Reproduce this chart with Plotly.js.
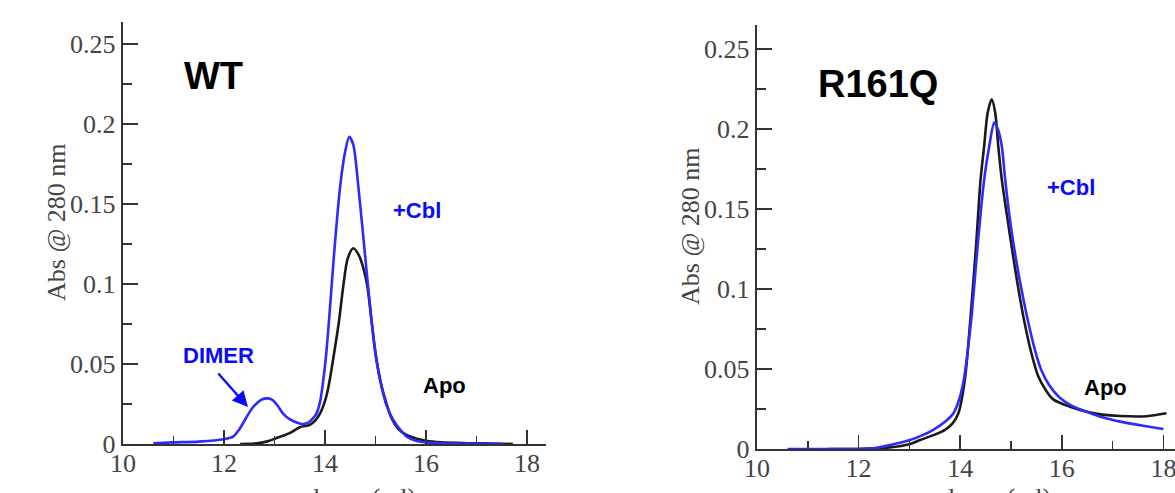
<!DOCTYPE html>
<html>
<head>
<meta charset="utf-8">
<script src="https://cdn.plot.ly/plotly-3.0.1.min.js"></script>
<style>html,body{margin:0;padding:0;background:#fff;}#chart{width:1175px;height:493px;}</style>
</head>
<body>
<div id="chart"></div>
<script>
// ---- WT panel data (volume ml, Abs @ 280 nm) ----
var wtCblX = [10.6, 11.0, 11.5, 12.0, 12.18, 12.3, 12.45, 12.55, 12.65, 12.75, 12.85, 12.95, 13.05, 13.17, 13.3, 13.45, 13.56, 13.68, 13.76, 13.83, 13.9, 13.95, 14.02, 14.08, 14.18, 14.3, 14.4, 14.48, 14.56, 14.66, 14.79, 14.92, 15.02, 15.12, 15.22, 15.35, 15.5, 15.62, 15.8, 16.0, 16.3, 16.8, 17.2, 17.52];
var wtCblY = [0.0005, 0.001, 0.0015, 0.003, 0.0046, 0.009, 0.017, 0.022, 0.0255, 0.0278, 0.0285, 0.0278, 0.0245, 0.019, 0.0155, 0.0133, 0.0125, 0.0135, 0.016, 0.019, 0.026, 0.036, 0.055, 0.0775, 0.119, 0.161, 0.183, 0.192, 0.187, 0.161, 0.119, 0.0775, 0.052, 0.036, 0.024, 0.015, 0.0085, 0.0046, 0.002, 0.001, 0.0005, 0.0003, 0.0002, 0.0];
var wtApoX = [12.32, 12.6, 12.77, 12.9, 13.04, 13.2, 13.31, 13.5, 13.7, 13.8, 13.9, 14.0, 14.07, 14.18, 14.28, 14.36, 14.45, 14.56, 14.67, 14.77, 14.84, 14.92, 15.0, 15.12, 15.22, 15.32, 15.45, 15.62, 15.8, 16.0, 16.3, 16.8, 17.3, 17.72];
var wtApoY = [0, 0.0003, 0.001, 0.002, 0.0037, 0.0055, 0.0069, 0.0105, 0.012, 0.0145, 0.019, 0.027, 0.036, 0.0567, 0.0775, 0.0983, 0.116, 0.1223, 0.118, 0.1087, 0.0983, 0.0775, 0.0567, 0.036, 0.025, 0.016, 0.0095, 0.0055, 0.0035, 0.002, 0.001, 0.0005, 0.0003, 0.0];

// ---- R161Q panel data ----
var mtCblX = [10.6, 11.5, 12.3, 12.62, 13.01, 13.25, 13.47, 13.7, 13.86, 13.97, 14.07, 14.15, 14.23, 14.34, 14.47, 14.57, 14.67, 14.74, 14.82, 14.88, 14.96, 15.05, 15.18, 15.32, 15.47, 15.6, 15.75, 15.96, 16.2, 16.49, 16.8, 17.15, 17.6, 18.0];
var mtCblY = [0, 0, 0.0005, 0.0025, 0.0056, 0.0085, 0.012, 0.017, 0.022, 0.03, 0.043, 0.062, 0.085, 0.126, 0.168, 0.189, 0.204, 0.2, 0.189, 0.17, 0.148, 0.128, 0.104, 0.082, 0.062, 0.049, 0.04, 0.032, 0.027, 0.0233, 0.0198, 0.0171, 0.0145, 0.0125];
var mtApoX = [11.4, 12.0, 12.6, 13.0, 13.21, 13.5, 13.7, 13.85, 13.96, 14.09, 14.21, 14.31, 14.4, 14.47, 14.54, 14.62, 14.69, 14.75, 14.82, 14.92, 15.01, 15.13, 15.26, 15.4, 15.53, 15.68, 15.83, 16.16, 16.49, 16.8, 17.15, 17.67, 18.06];
var mtApoY = [0, 0, 0.001, 0.003, 0.0056, 0.009, 0.012, 0.016, 0.022, 0.043, 0.085, 0.126, 0.168, 0.189, 0.21, 0.2186, 0.21, 0.189, 0.168, 0.146, 0.127, 0.103, 0.08, 0.06, 0.046, 0.037, 0.031, 0.0264, 0.0233, 0.0215, 0.0206, 0.0205, 0.0223];

var xTickVals = [10, 12, 14, 16, 18];
var yTickVals = [0, 0.05, 0.1, 0.15, 0.2, 0.25];
var yTickText = ['0', '0.05', '0.1', '0.15', '0.2', '0.25'];

var BLUE = '#2b2bff';
var BLACK = '#1a1a1a';
var W = 1175, H = 493;
function px(x) { return x / W; }
function py(y) { return 1 - y / H; }

var traces = [
  {x: wtApoX, y: wtApoY, xaxis: 'x', yaxis: 'y', mode: 'lines', line: {color: BLACK, width: 2.6, shape: 'spline', smoothing: 0.8}},
  {x: wtCblX, y: wtCblY, xaxis: 'x', yaxis: 'y', mode: 'lines', line: {color: BLUE, width: 2.6, shape: 'spline', smoothing: 0.8}},
  {x: mtApoX, y: mtApoY, xaxis: 'x2', yaxis: 'y2', mode: 'lines', line: {color: BLACK, width: 2.6, shape: 'spline', smoothing: 0.8}},
  {x: mtCblX, y: mtCblY, xaxis: 'x2', yaxis: 'y2', mode: 'lines', line: {color: BLUE, width: 2.6, shape: 'spline', smoothing: 0.8}}
];

var tickFont = {family: 'Liberation Serif, Times New Roman, serif', size: 26, color: '#444'};
function xAxis(domain, range, anchor) {
  return {domain: domain, range: range, anchor: anchor, tickvals: xTickVals, ticktext: xTickVals.map(String),
    ticks: 'inside', ticklen: 14, tickwidth: 1.6, tickcolor: '#333', showline: true, linecolor: '#333', linewidth: 2.4,
    showgrid: false, zeroline: false, tickfont: tickFont, fixedrange: true, ticklabeloverflow: 'allow', ticklabelstandoff: -6,
    minor: {ticks: 'inside', ticklen: 8, tickwidth: 1.6, tickcolor: '#333', dtick: 1, tick0: 0, showgrid: false}};
}
function yAxis(domain, range, anchor) {
  return {domain: domain, range: range, anchor: anchor, tickvals: yTickVals, ticktext: yTickText,
    ticks: 'inside', ticklen: 15, tickwidth: 1.6, tickcolor: '#333', showline: true, linecolor: '#333', linewidth: 2.4,
    showgrid: false, zeroline: false, tickfont: tickFont, fixedrange: true, ticklabeloverflow: 'allow',
    minor: {ticks: 'inside', ticklen: 9, tickwidth: 1.6, tickcolor: '#333', dtick: 0.025, tick0: 0, showgrid: false}};
}

var titleFont = {family: 'Liberation Sans, Arial, sans-serif', size: 38, color: '#000', weight: 'bold'};
var labFont = {family: 'Liberation Sans, Arial, sans-serif', size: 22, color: '#000', weight: 'bold'};
var blueLab = {family: 'Liberation Sans, Arial, sans-serif', size: 22, color: '#0a0aff', weight: 'bold'};
var axTitleFont = {family: 'Liberation Serif, Times New Roman, serif', size: 26, color: '#444'};

function ann(text, x, y, font, extra) {
  var a = {text: text, x: px(x), y: py(y), xref: 'paper', yref: 'paper', showarrow: false, font: font, xanchor: 'center', yanchor: 'middle'};
  if (extra) for (var k in extra) a[k] = extra[k];
  return a;
}

var annotations = [
  ann('<b>WT</b>', 213, 76, titleFont),
  ann('<b>R161Q</b>', 878, 84, titleFont),
  ann('<b>+Cbl</b>', 417, 210, blueLab),
  ann('<b>+Cbl</b>', 1071, 188, blueLab),
  ann('<b>DIMER</b>', 218, 355, blueLab),
  ann('<b>Apo</b>', 444, 385, labFont),
  ann('<b>Apo</b>', 1105, 387, labFont),
  {text: '', x: px(248), y: py(407), xref: 'paper', yref: 'paper', showarrow: true, ax: -31, ay: -35,
   arrowhead: 2, arrowsize: 1.3, arrowwidth: 2.4, arrowcolor: '#0a0aff'},
  ann('Abs @ 280 nm', 56, 222, axTitleFont, {textangle: -90}),
  ann('Abs @ 280 nm', 690, 226, axTitleFont, {textangle: -90}),
  ann('volume (ml)', 351, 481, axTitleFont, {yanchor: 'top'}),
  ann('volume (ml)', 986, 481, axTitleFont, {yanchor: 'top'})
];

var layout = {
  width: W, height: H, margin: {l: 0, r: 0, t: 0, b: 0},
  paper_bgcolor: '#fff', plot_bgcolor: 'rgba(0,0,0,0)', showlegend: false,
  xaxis: xAxis([123 / W, 546 / W], [10, 18.376], 'y'),
  yaxis: yAxis([49 / H, 471 / H], [0, 0.26375], 'x'),
  xaxis2: xAxis([757 / W, 1], [10, 18.228], 'y2'),
  yaxis2: yAxis([44 / H, 468 / H], [0, 0.265], 'x2'),
  annotations: annotations
};

Plotly.newPlot('chart', traces, layout, {displayModeBar: false, staticPlot: true});
</script>
</body>
</html>
